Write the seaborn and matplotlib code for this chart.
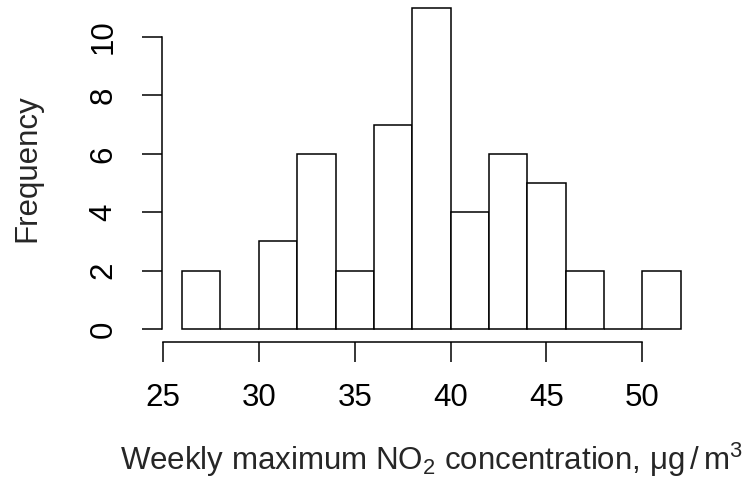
import numpy as np
import matplotlib
matplotlib.use("Agg")
import matplotlib.pyplot as plt
import seaborn as sns

# histogram bins (width 2) and counts
bin_edges = [26, 28, 30, 32, 34, 36, 38, 40, 42, 44, 46, 48, 50, 52]
counts = [2, 0, 3, 6, 2, 7, 11, 4, 6, 5, 2, 0, 2]
x_ticks = [25, 30, 35, 40, 45, 50]
y_ticks = [0, 2, 4, 6, 8, 10]

bin_mids = [(a + b) / 2 for a, b in zip(bin_edges[:-1], bin_edges[1:])]

sns.set_style("ticks")
plt.rcParams["font.family"] = ["Liberation Sans", "DejaVu Sans"]
plt.rcParams["mathtext.default"] = "regular"

fig = plt.figure(figsize=(7.47, 4.88), dpi=100)
ax = fig.add_axes([0.2171, 0.2996, 0.7209, 0.7106])

sns.histplot(x=bin_mids, weights=counts, bins=bin_edges, color="white",
             edgecolor="black", linewidth=1.1, alpha=1, ax=ax)

# R style axis extent: 4% padding around the data range
ax.set_xlim(bin_edges[0] - 0.04 * (bin_edges[-1] - bin_edges[0]),
            bin_edges[-1] + 0.04 * (bin_edges[-1] - bin_edges[0]))
ax.set_ylim(-0.04 * max(counts), max(counts) * 1.04)

ax.set_xticks(x_ticks)
ax.set_yticks(y_ticks)
for s in ["top", "right"]:
    ax.spines[s].set_visible(False)
ax.spines["left"].set_bounds(y_ticks[0], y_ticks[-1])
ax.spines["bottom"].set_bounds(x_ticks[0], x_ticks[-1])
for s in ["left", "bottom"]:
    ax.spines[s].set_linewidth(1.1)
    ax.spines[s].set_color("black")

ax.tick_params(axis="both", length=14.4, width=1.1, color="black",
               labelsize=22.5, labelcolor="black")
ax.tick_params(axis="x", pad=15)
ax.tick_params(axis="y", pad=17, labelrotation=90)
for lab in ax.get_yticklabels():
    lab.set_va("center")

ax.set_xlabel(r"Weekly maximum NO$_2$ concentration, $\mu$g$\,$/$\,$m$^3$",
              fontsize=22.5, labelpad=20)
ax.set_ylabel("Frequency", fontsize=22.5, labelpad=33)

fig.savefig("out.png", dpi=100)
